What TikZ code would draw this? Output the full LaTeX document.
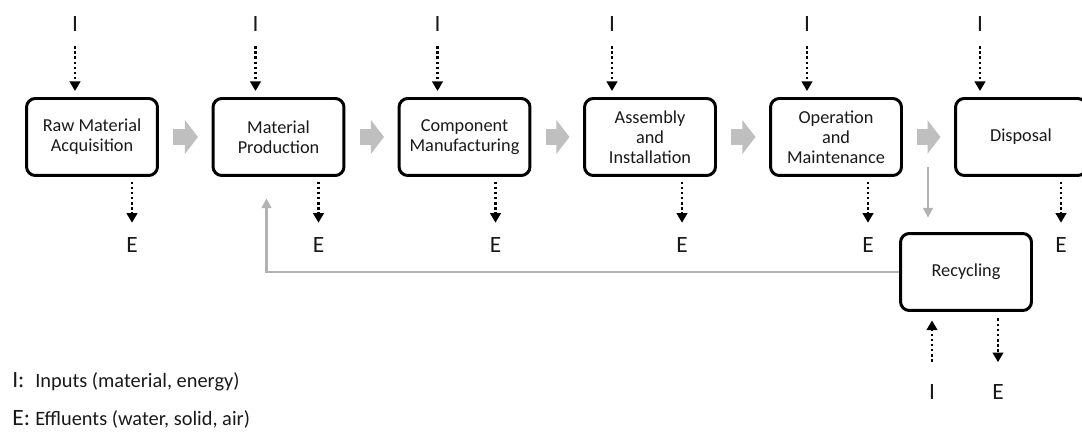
\documentclass[tikz,border=0pt]{standalone}
\usepackage{fontspec}
\setmainfont{Carlito}
\usetikzlibrary{arrows.meta, positioning, calc}

\newcommand{\tagfont}{\fontsize{13.3}{15}\selectfont}

\begin{document}
\begin{tikzpicture}[x=0.02cm, y=-0.02cm,
  stage/.style={draw, line width=1.7pt, rounded corners=5pt, minimum width=2.62cm,
    minimum height=1.54cm, align=center, text=black!90, font=\fontsize{10.4}{11.5}\selectfont},
  tag/.style={inner sep=0pt, text=black!90, font=\tagfont},
  flow/.style={line width=1.5pt, dash pattern=on 1.5pt off 1.4pt,
    -{Triangle[width=6pt,length=5.5pt]}},
  stepflow/.style={draw=black!25, line width=9.5pt, -{Triangle[width=18.8pt,length=7.4pt]},
    shorten <=8.2pt, shorten >=7.7pt},
  back/.style={draw=black!30, line width=1.2pt, -{Triangle[width=5.5pt,length=5.5pt]}},
  key/.style={anchor=west, inner sep=0pt, text=black!90, font=\fontsize{11.6}{13}\selectfont}]
  \def\ty{137}    % linha das etapas
  \useasboundingbox (0,0) rectangle (1082,432);

  % ---------- etapas do ciclo de vida ----------
  \foreach \n/\x/\t in {raw/92/{Raw Material\\Acquisition}, prod/278.5/{Material\\Production},
      comp/464.5/{Component\\Manufacturing}, asm/650/{Assembly\\and\\Installation},
      op/836/{Operation\\and\\Maintenance}, disp/1021/{Disposal}}{
    \node[stage] (\n) at (\x,\ty) {\t};
  }
  \node[stage] (rec) at (966,272) {Recycling};

  % ---------- entradas e efluentes ----------
  \foreach \n/\a/\b in {raw/-17/40, prod/-23/40, comp/-27/31, asm/-38/32, op/-29/32, disp/-41/40}{
    \path (\n.center) ++(\a,-113) node[tag] (i\n) {I}
          (\n.center) ++(\b,108) node[tag] (e\n) {E};
    \draw[flow, shorten <=8.2pt, shorten >=3.4pt] (i\n) -- (i\n |- \n.north);
    \draw[flow, shorten <=2.6pt, shorten >=8.2pt] (e\n |- \n.south) -- (e\n);
  }
  \path (rec.center) ++(-34,120) node[tag] (irec) {I}
        (rec.center) ++(32,120) node[tag] (erec) {E};
  \draw[flow, shorten <=12.8pt, shorten >=4.8pt] (irec) -- (irec |- rec.south);
  \draw[flow, shorten <=3.7pt, shorten >=12.5pt] (erec |- rec.south) -- (erec);

  % ---------- fluxo principal ----------
  \foreach \a/\b in {raw/prod, prod/comp, comp/asm, asm/op, op/disp}{
    \draw[stepflow] (\a) -- (\b);
  }

  % ---------- reciclagem ----------
  \coordinate (split) at (928,167);
  \draw[back, shorten >=8.2pt] (split) -- (split |- rec.north);
  \draw[back, shorten >=12.2pt] (rec.west) -| ($(prod.south)+(-12,0)$);

  % ---------- legenda ----------
  \node[key] (keyi) at (12,382) {\makebox[0.46cm][l]{\tagfont I:}Inputs (material, energy)};
  \node[key] (keye) at (12,419) {\makebox[0.46cm][l]{\tagfont E:}Effluents (water, solid, air)};
\end{tikzpicture}
\end{document}
